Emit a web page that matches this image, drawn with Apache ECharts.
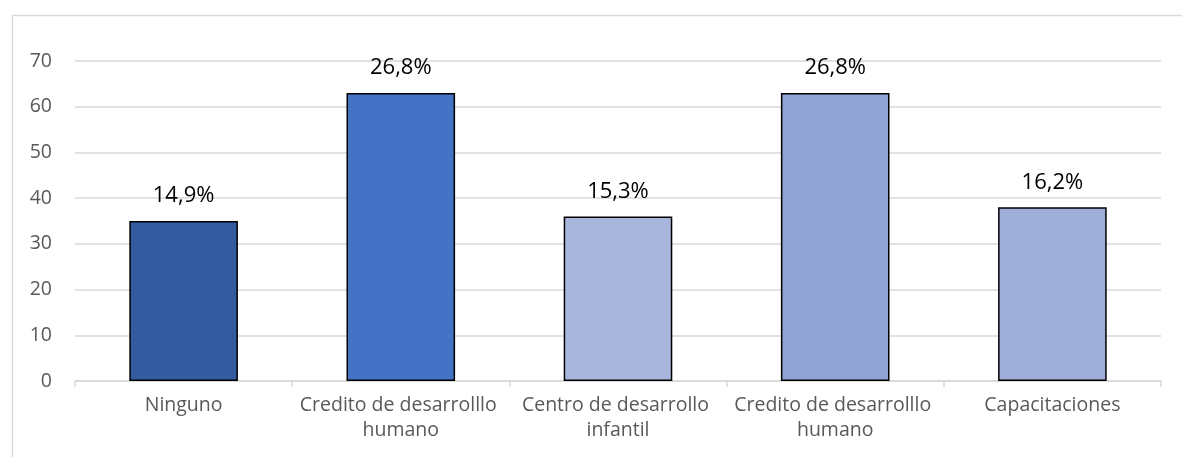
<!DOCTYPE html>
<html>
<head>
<meta charset="utf-8">
<script src="https://cdn.jsdelivr.net/npm/echarts@6/dist/echarts.min.js"></script>
<style>html,body{margin:0;padding:0;background:#fff;}#c{width:1182px;height:457px;}</style>
</head>
<body>
<div id="c"></div>
<script>
const categories = ["Ninguno", "Credito de desarrolllo humano", "Centro de desarrollo infantil", "Credito de desarrolllo humano", "Capacitaciones"];
const values = [35, 63, 36, 63, 38];
const percentLabels = ["14,9%", "26,8%", "15,3%", "26,8%", "16,2%"];
const barColors = ["#335BA0", "#4472C4", "#A9B6DB", "#8FA3D4", "#9FAED8"];
const yTicks = [0, 10, 20, 30, 40, 50, 60, 70];

const chart = echarts.init(document.getElementById('c'));
chart.setOption({
  animation: false,
  backgroundColor: '#fff',
  graphic: [{
    type: 'rect', left: 10, top: 13, shape: { width: 1200, height: 500 },
    style: { fill: 'none', stroke: '#d9d9d9', lineWidth: 1.5 }, silent: true
  }],
  grid: { left: 75, right: 21, top: 61, bottom: 76 },
  xAxis: {
    type: 'category',
    data: categories,
    axisLine: { lineStyle: { color: '#d9d9d9', width: 1.5 } },
    axisTick: { show: true, length: 6, lineStyle: { color: '#d9d9d9', width: 1.5 } },
    axisLabel: {
      interval: 0, color: '#595959', fontSize: 19.5, fontFamily: 'Open Sans', margin: 12,
      lineHeight: 25, width: 214, overflow: 'break'
    }
  },
  yAxis: {
    type: 'value', min: yTicks[0], max: yTicks[yTicks.length - 1], interval: 10,
    axisLine: { show: false }, axisTick: { show: false },
    splitLine: { lineStyle: { color: '#d9d9d9', width: 1.5 } },
    axisLabel: { color: '#595959', fontSize: 19.5, fontFamily: 'Open Sans', margin: 23 }
  },
  series: [{
    type: 'bar',
    barWidth: '50%',
    data: values.map((v, i) => ({
      value: v,
      itemStyle: { color: barColors[i], borderColor: '#000', borderWidth: 1.5 }
    })),
    label: {
      show: true, position: 'top', distance: 14, color: '#000', fontSize: 22, fontFamily: 'Open Sans',
      formatter: p => percentLabels[p.dataIndex]
    }
  }]
});
</script>
</body>
</html>
